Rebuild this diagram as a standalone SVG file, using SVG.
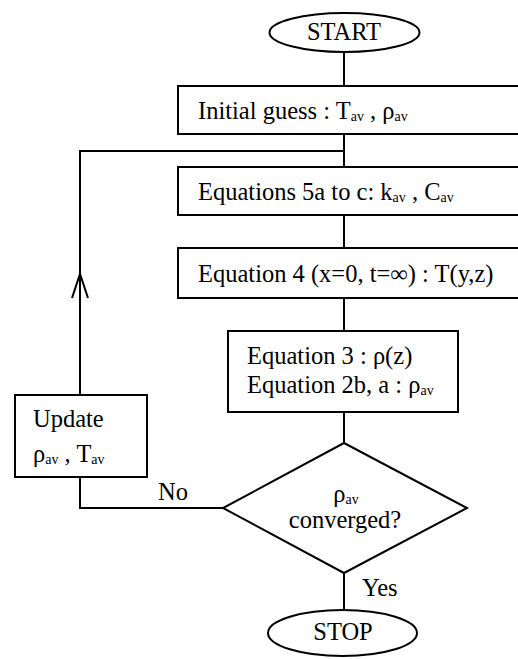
<svg xmlns="http://www.w3.org/2000/svg" width="518" height="659" viewBox="0 0 518 659">
<style>
.s{fill:none;stroke:#000;stroke-width:2}
.b{fill:#fff;stroke:#000;stroke-width:2}
text{font-family:"Liberation Serif","Times New Roman",serif;font-size:24.5px;fill:#000}
.sub{font-size:14px}
.m{text-anchor:middle}
</style>
<rect width="518" height="659" fill="#fff"/>
<g id="connectors">
<path class="s" d="M344 52V86M344 134V167M344 215V248M344 298V331M344 412V443M344 573V610"/>
<path class="s" d="M344 151H80V395"/>
<path class="s" d="M72 298L80 274L88 298"/>
<path class="s" d="M80 477V508H223"/>
</g>
<g id="start">
<ellipse class="b" cx="344.5" cy="32.5" rx="75" ry="19.5"/>
<text class="m" x="344" y="40">START</text>
</g>
<g id="init">
<rect class="b" x="178" y="86" width="350" height="48"/>
<text x="198" y="119">Initial guess : T<tspan class="sub" dy="2">av</tspan><tspan dy="-2"> , ρ</tspan><tspan class="sub" dy="2">av</tspan></text>
</g>
<g id="eq5">
<rect class="b" x="178" y="167" width="350" height="48"/>
<text x="198" y="200">Equations 5a to c: k<tspan class="sub" dy="2">av</tspan><tspan dy="-2"> , C</tspan><tspan class="sub" dy="2">av</tspan></text>
</g>
<g id="eq4">
<rect class="b" x="178" y="248" width="350" height="50"/>
<text x="198" y="282">Equation 4 (x=0, t=∞) : T(y,z)</text>
</g>
<g id="eq3">
<rect class="b" x="228" y="331" width="230" height="81"/>
<text x="247" y="364">Equation 3 : ρ(z)</text>
<text x="247" y="393">Equation 2b, a : ρ<tspan class="sub" dy="2">av</tspan></text>
</g>
<g id="decision">
<path class="b" d="M344 443L467 508L344 573L223 508Z"/>
<text class="m" x="346" y="502">ρ<tspan class="sub" dy="2">av</tspan></text>
<text class="m" x="345" y="528">converged?</text>
</g>
<g id="update">
<rect class="b" x="15" y="395" width="132" height="82"/>
<text x="33" y="427">Update</text>
<text x="33" y="462">ρ<tspan class="sub" dy="2">av</tspan><tspan dy="-2"> , T</tspan><tspan class="sub" dy="2">av</tspan></text>
</g>
<g id="labels">
<text x="158" y="500">No</text>
<text x="362" y="596">Yes</text>
</g>
<g id="stop">
<ellipse class="b" cx="342.5" cy="633" rx="74.5" ry="23"/>
<text class="m" x="343" y="640">STOP</text>
</g>
</svg>
